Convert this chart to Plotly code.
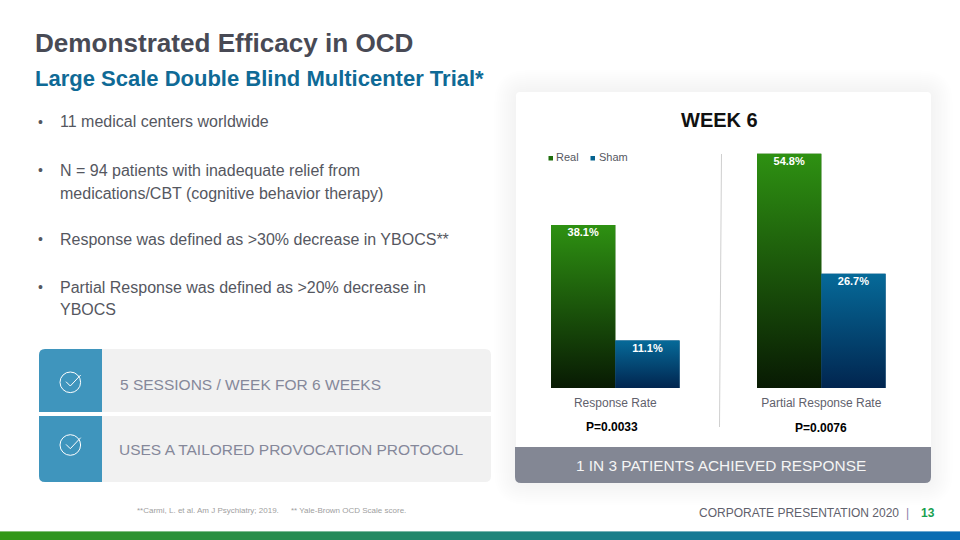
import plotly.graph_objects as go

# ---- data ----
categories = ["Response Rate", "Partial Response Rate"]
real_values = [38.1, 54.8]
sham_values = [11.1, 26.7]
p_values = ["P=0.0033", "P=0.0076"]
series_names = ["Real", "Sham"]
title = "Demonstrated Efficacy in OCD"
subtitle = "Large Scale Double Blind Multicenter Trial*"
chart_title = "WEEK 6"
banner_text = "1 IN 3 PATIENTS ACHIEVED RESPONSE"
bullets = [
    ["11 medical centers worldwide"],
    ["N = 94 patients with inadequate relief from", "medications/CBT (cognitive behavior therapy)"],
    ["Response was defined as >30% decrease in YBOCS**"],
    ["Partial Response was defined as >20% decrease in", "YBOCS"],
]
callouts = ["5 SESSIONS / WEEK FOR 6 WEEKS", "USES A TAILORED PROVOCATION PROTOCOL"]
footnotes = ["**Carmi, L. et al. Am J Psychiatry; 2019.", "** Yale-Brown OCD Scale score."]
footer = "CORPORATE PRESENTATION 2020"
page_no = "13"

W, H = 960, 540
FONT = "Liberation Sans"
GREEN = ["#081a03", "#2e9112"]
BLUE = ["#01254f", "#066a99"]
BARGAP = 0.376
bw = (1 - BARGAP) / 2

fig = go.Figure()
shapes, annos = [], []


def X(p):
    return p / W


def Y(p):
    return 1 - p / H


def T(x, y, s, size, color, bold=False, anchor="left"):
    annos.append(dict(
        x=X(x), y=Y(y), xref="paper", yref="paper", text=f"<b>{s}</b>" if bold else s,
        showarrow=False, xanchor=anchor, yanchor="middle", borderpad=0,
        font=dict(family=FONT, size=size, color=color)))


def round_rect(x0, y0, x1, y1, tl, tr, br, bl, fill, layer="below", line=None):
    def px(v):
        return f"{X(v):.5f}"

    def py(v):
        return f"{Y(v):.5f}"
    d = (f"M{px(x0 + tl)},{py(y0)} L{px(x1 - tr)},{py(y0)} Q{px(x1)},{py(y0)} {px(x1)},{py(y0 + tr)} "
         f"L{px(x1)},{py(y1 - br)} Q{px(x1)},{py(y1)} {px(x1 - br)},{py(y1)} "
         f"L{px(x0 + bl)},{py(y1)} Q{px(x0)},{py(y1)} {px(x0)},{py(y1 - bl)} "
         f"L{px(x0)},{py(y0 + tl)} Q{px(x0)},{py(y0)} {px(x0 + tl)},{py(y0)} Z")
    shapes.append(dict(type="path", path=d, xref="paper", yref="paper", fillcolor=fill,
                       line=dict(width=0), layer=layer))


def line(x0, y0, x1, y1, color, width):
    shapes.append(dict(type="line", xref="paper", yref="paper", x0=X(x0), y0=Y(y0), x1=X(x1), y1=Y(y1),
                       line=dict(color=color, width=width), layer="below"))


# bottom stripe
def lerp(a, b, t):
    return tuple(round(a[i] + (b[i] - a[i]) * t) for i in range(3))


c0, c1, c2 = (0x32, 0x97, 0x16), (0x1f, 0x85, 0x78), (0x0a, 0x6b, 0xb5)
n = 96
for i in range(n):
    t = i / (n - 1)
    c = lerp(c0, c1, t * 2) if t < 0.5 else lerp(c1, c2, t * 2 - 1)
    shapes.append(dict(type="rect", xref="paper", yref="paper", x0=X(i * 10), x1=X(i * 10 + 10.5),
                       y0=Y(540), y1=Y(531), fillcolor=f"rgb{c}", line=dict(width=0), layer="below"))
shapes.append(dict(type="rect", xref="paper", yref="paper", x0=0, x1=1, y0=Y(532), y1=Y(531),
                   fillcolor="rgba(255,255,255,0.4)", line=dict(width=0), layer="below"))

# card with soft shadow
for k in range(22, 0, -2):
    round_rect(516 - k, 92 - k, 931 + k, 483 + k, 10 + k, 10 + k, 10 + k, 10 + k, "rgba(0,0,0,0.004)")
round_rect(516, 92, 931, 483, 4, 4, 6, 6, "#ffffff")
round_rect(515, 447, 931, 483, 0, 0, 6, 6, "#838794")

# callout panels
panels = [(349, 412, 6, 6, 0, 0), (416, 482, 0, 0, 6, 6)]
for (y0, y1, tl, tr, br, bl), s, tx, ty in zip(panels, callouts, [119, 118], [385, 449.5]):
    round_rect(39, y0, 491, y1, tl, tr, br, bl, "#f1f1f1")
    round_rect(39, y0, 102, y1, tl, 0, 0, bl, "#3f95bd")
    T(tx, ty, s, 15.5, "#85889a")
for cy in [382.3, 445]:
    shapes.append(dict(type="circle", xref="paper", yref="paper", x0=X(60), x1=X(80.6), y0=Y(cy + 10.3),
                       y1=Y(cy - 10.3), line=dict(color="#ffffff", width=1), layer="below"))
    pts = [(66, cy - 0.6), (70.3, cy + 3.7), (80.7, cy - 7.3)]
    shapes.append(dict(type="path", xref="paper", yref="paper", line=dict(color="#ffffff", width=1),
                       layer="below",
                       path="M" + " L".join(f"{X(a):.5f},{Y(b):.5f}" for a, b in pts)))

# divider
line(721.5, 154, 719.5, 427, "#cfcfcf", 1)

# bars
real_x = [i - bw / 2 for i in range(len(categories))]
sham_x = [i + bw / 2 for i in range(len(categories))]
positions = list(range(len(categories)))
fig.add_trace(go.Bar(x=positions, y=real_values, name=series_names[0], marker=dict(color="#1c5a0b", line=dict(width=0)),
                     showlegend=False, hoverinfo="name+y"))
fig.add_trace(go.Bar(x=positions, y=sham_values, name=series_names[1], marker=dict(color="#044878", line=dict(width=0)),
                     showlegend=False, hoverinfo="name+y"))

# vertical gradient over each bar, built from the same values
for xs, vals, grad in [(real_x, real_values, GREEN), (sham_x, sham_values, BLUE)]:
    for cx, v in zip(xs, vals):
        fig.add_trace(go.Scatter(
            x=[cx - bw / 2, cx + bw / 2, cx + bw / 2, cx - bw / 2, cx - bw / 2],
            y=[0, 0, v, v, 0], mode="none", fill="toself", showlegend=False, hoverinfo="skip",
            fillgradient=dict(type="vertical", colorscale=[[0, grad[0]], [1, grad[1]]])))

# value labels
fig.add_trace(go.Scatter(
    x=real_x + sham_x, y=real_values + sham_values, mode="markers+text",
    marker=dict(size=3, opacity=0),
    text=[f"<b>{v:.1f}%</b>" for v in real_values + sham_values],
    textposition="bottom center", textfont=dict(family=FONT, size=11, color="#ffffff"),
    showlegend=False, hoverinfo="skip"))

# texts
T(34, 43, title, 26.1, "#484a55", True)
T(34, 78.5, subtitle, 22, "#0f6a96", True)
ys = [[122], [170, 193], [239], [287, 309.5]]
for lines, yy in zip(bullets, ys):
    T(37, yy[0], "•", 14, "#55575f")
    for s, y in zip(lines, yy):
        T(59, y, s, 16, "#55575f")
T(719.5, 120, chart_title, 20, "#111111", True, "center")
T(721, 465, banner_text, 15.4, "#f5f5f5", anchor="center")
T(612, 426.5, p_values[0], 12, "#000000", True, "center")
T(821, 427.5, p_values[1], 12, "#000000", True, "center")
T(136, 510, footnotes[0], 8, "#a0a0a0")
T(290, 510, footnotes[1], 8, "#a0a0a0")
T(698, 512.5, footer, 12, "#5f616c")
T(907, 512.5, "|", 12, "#8a80a8", anchor="center")
T(920, 512.5, page_no, 12, "#17a050", True)

# legend key
for sx, tx, col, nm in [(548.5, 555, "#1f6e0c", series_names[0]), (590.5, 597.5, "#05628f", series_names[1])]:
    shapes.append(dict(type="rect", xref="paper", yref="paper", x0=X(sx), x1=X(sx + 4.5), y0=Y(160.5), y1=Y(156),
                       fillcolor=col, line=dict(width=0), layer="below"))
    T(tx, 157, nm, 11, "#55575f")

fig.update_layout(
    width=W, height=H, margin=dict(l=0, r=0, t=0, b=0), autosize=False,
    paper_bgcolor="#ffffff", plot_bgcolor="rgba(0,0,0,0)", barmode="group", bargap=BARGAP, bargroupgap=0,
    showlegend=False, shapes=shapes, annotations=annos,
    xaxis=dict(domain=[X(512.3), X(924.3)], range=[-0.5, 1.5], tickmode="array", tickvals=positions, ticktext=categories,
               showgrid=False, zeroline=False, showline=False, ticks="outside", ticklen=4, tickcolor="rgba(0,0,0,0)",
               tickfont=dict(family=FONT, size=12, color="#5f616c")),
    yaxis=dict(domain=[Y(388), Y(131.4)], range=[0, 60], visible=False),
)
fig.write_html("out.html", config={"displayModeBar": False},
               post_script="document.body.style.margin='0';document.body.style.overflow='hidden';")
